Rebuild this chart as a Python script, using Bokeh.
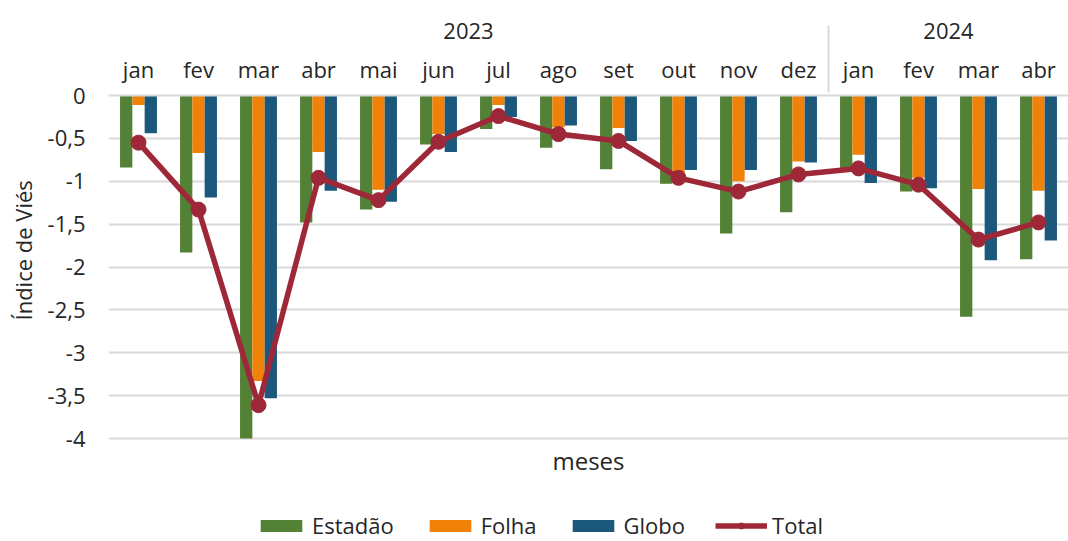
from bokeh.plotting import figure
from bokeh.models import (FactorRange, Range1d, FixedTicker, CustomJSTickFormatter,
                          Legend, LegendItem, Title, Label, ColumnDataSource)
from bokeh.transform import dodge
from bokeh.embed import file_html
from bokeh.resources import INLINE

years = ["2023"] * 12 + ["2024"] * 4
months = ["jan", "fev", "mar", "abr", "mai", "jun", "jul", "ago", "set", "out", "nov", "dez",
          "jan", "fev", "mar", "abr"]
estadao = [-0.84, -1.83, -4.00, -1.48, -1.33, -0.57, -0.39, -0.61, -0.86, -1.03, -1.61, -1.36,
           -0.87, -1.12, -2.58, -1.91]
folha = [-0.11, -0.67, -3.33, -0.66, -1.10, -0.45, -0.11, -0.37, -0.38, -0.95, -1.00, -0.77,
         -0.69, -0.96, -1.09, -1.11]
globo = [-0.44, -1.19, -3.53, -1.11, -1.24, -0.66, -0.25, -0.35, -0.53, -0.87, -0.87, -0.78,
         -1.02, -1.08, -1.92, -1.69]
total = [-0.55, -1.33, -3.61, -0.96, -1.22, -0.54, -0.24, -0.45, -0.53, -0.96, -1.12, -0.92,
         -0.85, -1.04, -1.68, -1.48]
y_ticks = [0, -0.5, -1, -1.5, -2, -2.5, -3, -3.5, -4]

FONT = "Open Sans"
TXT = "#262626"
GRID = "#d9d9d9"

factors = list(zip(years, months))
src = ColumnDataSource(dict(x=factors, estadao=estadao, folha=folha, globo=globo, total=total))

# frame runs to the bottom of the canvas; the area below -4 holds the axis title and legend
p = figure(width=1068, height=541, x_range=FactorRange(*factors, group_padding=0, factor_padding=0),
           y_range=Range1d(-5.2, 0), x_axis_location="above",
           output_backend="svg", toolbar_location=None,
           min_border_left=108, min_border_right=0, min_border_top=95, min_border_bottom=0)

w = 0.205
r1 = p.vbar(x=dodge("x", -w, range=p.x_range), top=0, bottom="estadao", width=w,
            source=src, fill_color="#538135", line_color=None)
r2 = p.vbar(x=dodge("x", 0, range=p.x_range), top=0, bottom="folha", width=w,
            source=src, fill_color="#f08109", line_color=None)
r3 = p.vbar(x=dodge("x", w, range=p.x_range), top=0, bottom="globo", width=w,
            source=src, fill_color="#1c587c", line_color=None)
r4 = p.line(x="x", y="total", source=src, line_color="#9e2838", line_width=5.5)
r5 = p.scatter(x="x", y="total", source=src, size=15, fill_color="#9e2838", line_color="#9e2838")

p.outline_line_color = None
p.xgrid.grid_line_color = None
p.ygrid.grid_line_color = GRID
p.ygrid.grid_line_width = 2

xa = p.xaxis[0]
xa.axis_line_color = GRID
xa.axis_line_width = 2
xa.major_tick_line_color = None
xa.major_tick_out = 0
xa.major_label_text_font = FONT
xa.major_label_text_font_size = "22px"
xa.major_label_text_color = TXT
xa.group_text_font = FONT
xa.group_text_font_size = "22px"
xa.group_text_color = TXT
xa.group_text_font_style = "normal"
xa.separator_line_color = GRID
xa.separator_line_width = 2
xa.major_label_standoff = 12

ya = p.yaxis[0]
ya.ticker = FixedTicker(ticks=y_ticks)
ya.formatter = CustomJSTickFormatter(code="return tick.toString().replace('.', ',');")
ya.axis_line_color = None
ya.major_tick_line_color = None
ya.minor_tick_line_color = None
ya.major_tick_out = 0
ya.minor_tick_out = 0
ya.major_label_text_font = FONT
ya.major_label_text_font_size = "22px"
ya.major_label_text_color = TXT
ya.major_label_standoff = 23

p.add_layout(Title(text="Índice de Viés", align="left", offset=221, vertical_align="middle",
                   text_font=FONT, text_font_size="22px", text_font_style="normal",
                   text_color=TXT, standoff=12), "left")

p.add_layout(Label(x=8, y=-4.26, text="meses", text_align="center", text_baseline="middle",
                   text_font=FONT, text_font_size="24px", text_color=TXT))

legend = Legend(items=[LegendItem(label="Estadão", renderers=[r1]),
                       LegendItem(label="Folha", renderers=[r2]),
                       LegendItem(label="Globo", renderers=[r3]),
                       LegendItem(label="Total", renderers=[r4, r5])],
                orientation="horizontal", location=(147, 1),
                glyph_width=52, glyph_height=15, label_standoff=5, spacing=30,
                label_text_font=FONT, label_text_font_size="22px", label_text_color=TXT,
                border_line_color=None, background_fill_alpha=0, padding=0, margin=0)
p.add_layout(legend, "center")

open("out.html", "w").write(file_html(p, INLINE))
